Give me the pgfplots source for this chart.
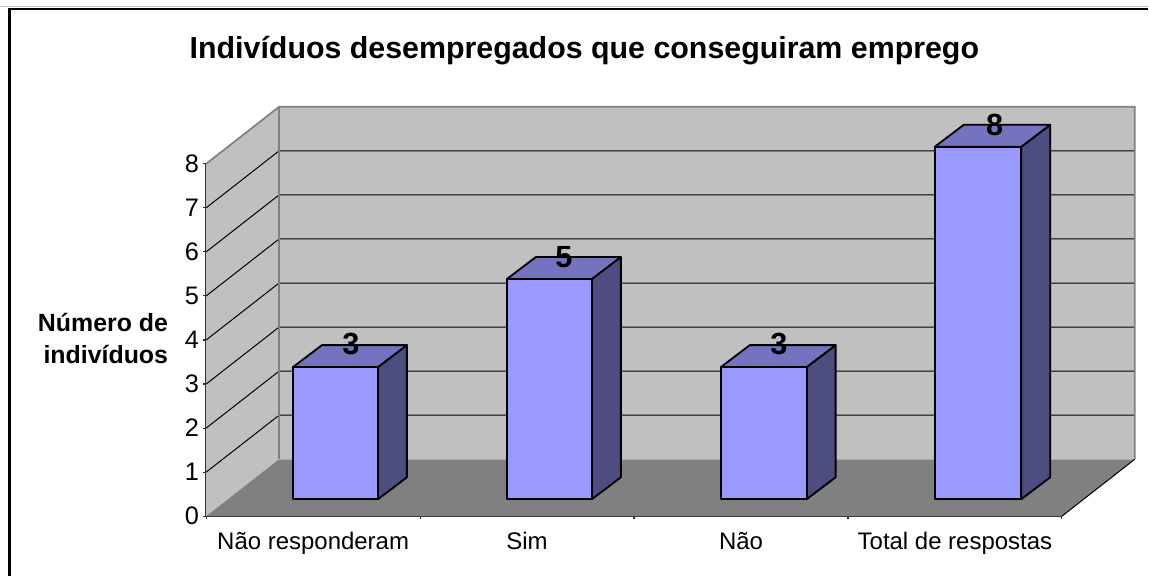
\documentclass[border=0pt]{standalone}
\usepackage{fontspec}
\setmainfont{Liberation Sans}
\usepackage{pgfplots}
\pgfplotsset{compat=1.18}
\definecolor{wallc}{HTML}{C0C0C0}
\definecolor{floorc}{HTML}{808080}
\definecolor{barfront}{HTML}{9999FF}
\definecolor{bartop}{HTML}{7373BF}
\definecolor{barside}{HTML}{4D4D80}
\definecolor{axisc}{HTML}{303030}
\newcommand{\fs}[2]{\fontsize{#1}{#2}\selectfont}
\begin{document}
\begin{tikzpicture}
\begin{axis}[
  scale only axis,
  width=642.75pt, height=264.75pt,
  xmin=-0.5, xmax=3.5, ymin=0, ymax=8,
  clip=false,
  axis lines=left,
  axis line style={-, draw=axisc, line width=1.1pt},
  xtick={0,1,2,3},
  xticklabels={Não responderam,Sim,Não,Total de respostas},
  minor xtick={-0.5,0.5,1.5,2.5,3.5},
  ytick={0,...,8},
  major x tick style={draw=none},
  minor x tick style={draw=axisc, line width=0.9pt},
  minor tick length=4.5pt,
  major tick length=4.5pt,
  tick style={draw=axisc, line width=0.8pt},
  xticklabel style={font=\fs{18pt}{18pt}, yshift=-6.25pt},
  yticklabel style={font=\fs{19pt}{19pt}, xshift=0.3pt},
  /pgf/number format/assume math mode=true,
  ylabel={\textbf{Número de}\\\textbf{indivíduos}},
  ylabel style={at={(axis description cs:-0.0443,0.504)}, rotate=-90, anchor=east,
    align=right, font=\fs{18.7pt}{24pt}, inner sep=0pt},
  title={\textbf{Indivíduos desempregados que conseguiram emprego}},
  title style={at={(axis description cs:0.442,1.298)}, anchor=center, font=\fs{22.8pt}{24pt}},
]
% walls and floor, depth offset is 0.3407 in x and 1.292 in y
\addplot[fill=wallc, draw=none] coordinates {(-0.1593,1.292) (3.8407,1.292) (3.8407,9.292) (-0.1593,9.292)} -- cycle;
\addplot[fill=wallc, draw=none] coordinates {(-0.5,0) (-0.5,8) (-0.1593,9.292) (-0.1593,1.292)} -- cycle;
\addplot[fill=floorc, draw=none] coordinates {(-0.5,0) (3.5,0) (3.8407,1.292) (-0.1593,1.292)} -- cycle;
% gridlines
\foreach \lev/\back in {1/2.292,2/3.292,3/4.292,4/5.292,5/6.292,6/7.292,7/8.292}{
  \edef\temp{\noexpand\addplot[black, line width=0.75pt] coordinates {(-0.5,\lev) (-0.1593,\back) (3.8407,\back)};}
  \temp
}
% wall edges
\addplot[floorc, line width=1.3pt] coordinates {(-0.5,8) (-0.1593,9.292) (3.8407,9.292) (3.8407,1.292)};
\addplot[floorc, line width=1.3pt] coordinates {(-0.1593,9.292) (-0.1593,1.292)};
\addplot[black, line width=0.75pt] coordinates {(3.5,0) (3.8407,1.292)};
% bar faces: front, top, side
\pgfplotsset{
  face/.style={draw=black, line width=1.4pt, line join=round},
}
\addplot[face, fill=barside] coordinates {(0.303,0.385) (0.4384,0.8836) (0.4384,3.8836) (0.303,3.385)} -- cycle;
\addplot[face, fill=bartop] coordinates {(-0.094,3.385) (0.303,3.385) (0.4384,3.8836) (0.0414,3.8836)} -- cycle;
\addplot[face, fill=barfront] coordinates {(-0.094,0.385) (0.303,0.385) (0.303,3.385) (-0.094,3.385)} -- cycle;
\addplot[face, fill=barside] coordinates {(1.303,0.385) (1.4384,0.8836) (1.4384,5.8836) (1.303,5.385)} -- cycle;
\addplot[face, fill=bartop] coordinates {(0.906,5.385) (1.303,5.385) (1.4384,5.8836) (1.0414,5.8836)} -- cycle;
\addplot[face, fill=barfront] coordinates {(0.906,0.385) (1.303,0.385) (1.303,5.385) (0.906,5.385)} -- cycle;
\addplot[face, fill=barside] coordinates {(2.307,0.385) (2.4424,0.8836) (2.4424,3.8836) (2.307,3.385)} -- cycle;
\addplot[face, fill=bartop] coordinates {(1.906,3.385) (2.307,3.385) (2.4424,3.8836) (2.0414,3.8836)} -- cycle;
\addplot[face, fill=barfront] coordinates {(1.906,0.385) (2.307,0.385) (2.307,3.385) (1.906,3.385)} -- cycle;
\addplot[face, fill=barside] coordinates {(3.31,0.385) (3.4454,0.8836) (3.4454,8.8836) (3.31,8.385)} -- cycle;
\addplot[face, fill=bartop] coordinates {(2.906,8.385) (3.31,8.385) (3.4454,8.8836) (3.0414,8.8836)} -- cycle;
\addplot[face, fill=barfront] coordinates {(2.906,0.385) (3.31,0.385) (3.31,8.385) (2.906,8.385)} -- cycle;
% data labels
\addplot[only marks, mark=none, point meta=explicit, nodes near coords,
  every node near coord/.style={anchor=center, inner sep=0pt, font=\fs{23pt}{23pt}\bfseries}]
  coordinates {(0.177,3.92)[3] (1.172,5.875)[5] (2.177,3.92)[3] (3.186,8.875)[8]};
% outer frame, only its top and left side show
\draw[wallc, line width=0.75pt] (axis cs:-1.4615,11.5627) -- (axis cs:3.9014,11.5627);
\draw[wallc, line width=0.75pt] (axis cs:-1.4125,-1.3597) -- (axis cs:-1.4125,11.48);
\draw[black, line width=1.9pt] (axis cs:3.9014,11.5127) -- (axis cs:-1.4195,11.5127) -- (axis cs:-1.4195,-1.3597);
\path (axis cs:-1.4615,-1.3597) rectangle (axis cs:3.9014,11.7167);
\end{axis}
\end{tikzpicture}
\end{document}
